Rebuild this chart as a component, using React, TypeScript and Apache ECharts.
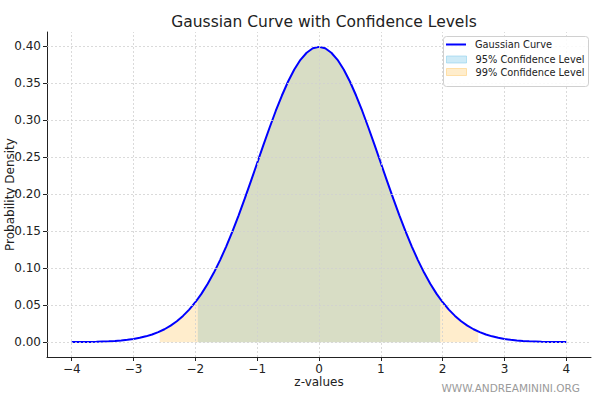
import React, { useEffect, useRef } from "react";
import * as echarts from "echarts";

const zValues = [
  -4.0, -3.9, -3.8, -3.7, -3.6, -3.5, -3.4, -3.3, -3.2, -3.1,
  -3.0, -2.9, -2.8, -2.7, -2.6, -2.5, -2.4, -2.3, -2.2, -2.1,
  -2.0, -1.9, -1.8, -1.7, -1.6, -1.5, -1.4, -1.3, -1.2, -1.1,
  -1.0, -0.9, -0.8, -0.7, -0.6, -0.5, -0.4, -0.3, -0.2, -0.1,
  0.0, 0.1, 0.2, 0.3, 0.4, 0.5, 0.6, 0.7, 0.8, 0.9,
  1.0, 1.1, 1.2, 1.3, 1.4, 1.5, 1.6, 1.7, 1.8, 1.9,
  2.0, 2.1, 2.2, 2.3, 2.4, 2.5, 2.6, 2.7, 2.8, 2.9,
  3.0, 3.1, 3.2, 3.3, 3.4, 3.5, 3.6, 3.7, 3.8, 3.9, 4.0,
];

const density = [
  0.0001, 0.0002, 0.0003, 0.0004, 0.0006, 0.0009, 0.0012, 0.0017, 0.0024, 0.0033,
  0.0044, 0.006, 0.0079, 0.0104, 0.0136, 0.0175, 0.0224, 0.0283, 0.0355, 0.044,
  0.054, 0.0656, 0.079, 0.094, 0.1109, 0.1295, 0.1497, 0.1714, 0.1942, 0.2179,
  0.242, 0.2661, 0.2897, 0.3123, 0.3332, 0.3521, 0.3683, 0.3814, 0.391, 0.397,
  0.3989, 0.397, 0.391, 0.3814, 0.3683, 0.3521, 0.3332, 0.3123, 0.2897, 0.2661,
  0.242, 0.2179, 0.1942, 0.1714, 0.1497, 0.1295, 0.1109, 0.094, 0.079, 0.0656,
  0.054, 0.044, 0.0355, 0.0283, 0.0224, 0.0175, 0.0136, 0.0104, 0.0079, 0.006,
  0.0044, 0.0033, 0.0024, 0.0017, 0.0012, 0.0009, 0.0006, 0.0004, 0.0003, 0.0002, 0.0001,
];

// confidence bounds and curve heights at those bounds
const ci95 = [-1.96, 1.96];
const ci95Edge = 0.0584;
const ci99 = [-2.576, 2.576];
const ci99Edge = 0.0145;

const xTicks = [-4, -3, -2, -1, 0, 1, 2, 3, 4];
const yTicks = [0, 0.05, 0.1, 0.15, 0.2, 0.25, 0.3, 0.35, 0.4];

const FONT = "DejaVu Sans";

function band(lo: number, hi: number, edge: number) {
  const pts: number[][] = [[lo, edge]];
  zValues.forEach((z, i) => {
    if (z > lo && z < hi) pts.push([z, density[i]]);
  });
  pts.push([hi, edge]);
  return pts;
}

export default function App() {
  const ref = useRef<HTMLDivElement>(null);
  useEffect(() => {
    if (!ref.current) return;
    const chart = echarts.init(ref.current, null, { renderer: "svg" });
    const curve = zValues.map((z, i) => [z, density[i]]);
    const gridLine = { color: "#d0d0d0", type: [2, 2], width: 0.8 };
    const legendText = { fontFamily: FONT, fontSize: 9.8, color: "#222", padding: [0, 0, 0, 4] };
    chart.setOption({
      animation: false,
      backgroundColor: "#ffffff",
      textStyle: { fontFamily: FONT },
      title: {
        text: "Gaussian Curve with Confidence Levels",
        left: 319,
        textAlign: "center",
        top: 9,
        textStyle: { fontFamily: FONT, fontSize: 15.5, fontWeight: "normal", color: "#222" },
      },
      grid: { left: 47, right: 9, top: 32, bottom: 39, containLabel: false, outerBoundsMode: "none" },
      legend: [
        {
          left: 446,
          top: 39.5,
          orient: "vertical",
          padding: 0,
          itemWidth: 20,
          itemHeight: 2,
          icon: "rect",
          textStyle: legendText,
          z: 8,
          data: [{ name: "Gaussian Curve", itemStyle: { color: "#0000ff", borderWidth: 0 } }],
        },
        {
          left: 446,
          top: 54.5,
          orient: "vertical",
          padding: 0,
          itemGap: 2.5,
          itemWidth: 20,
          itemHeight: 7,
          icon: "rect",
          textStyle: legendText,
          z: 8,
          data: [
            {
              name: "95% Confidence Level",
              itemStyle: { color: "rgba(135,206,235,0.4)", borderColor: "rgba(135,206,235,0.55)", borderWidth: 1, borderType: "solid" },
            },
            {
              name: "99% Confidence Level",
              itemStyle: { color: "rgba(255,165,0,0.2)", borderColor: "rgba(255,165,0,0.28)", borderWidth: 1, borderType: "solid" },
            },
          ],
        },
      ],
      xAxis: {
        type: "value",
        min: -4.4,
        max: 4.4,
        name: "z-values",
        nameLocation: "middle",
        nameGap: 19,
        nameMoveOverlap: false,
        nameTextStyle: { fontFamily: FONT, fontSize: 12, color: "#222" },
        axisLine: { onZero: false, lineStyle: { color: "#222", width: 1 } },
        axisTick: { show: true, customValues: xTicks, length: 4, lineStyle: { color: "#222" } },
        axisLabel: {
          customValues: xTicks,
          fontFamily: FONT,
          fontSize: 12,
          color: "#222",
          margin: 6,
          formatter: (v: number) => String(v).replace("-", "\u2212"),
        },
        splitLine: { show: false },
      },
      yAxis: {
        type: "value",
        min: -0.02,
        max: 0.419,
        name: "Probability Density",
        nameLocation: "middle",
        nameGap: 31,
        nameMoveOverlap: false,
        nameRotate: 90,
        nameTextStyle: { fontFamily: FONT, fontSize: 12, color: "#222" },
        axisLine: { show: true, onZero: false, lineStyle: { color: "#222", width: 1 } },
        axisTick: { show: true, customValues: yTicks, length: 4, lineStyle: { color: "#222" } },
        axisLabel: {
          customValues: yTicks,
          fontFamily: FONT,
          fontSize: 12,
          color: "#222",
          margin: 6,
          formatter: (v: number) => v.toFixed(2),
        },
        splitLine: { show: false },
      },
      graphic: [
        {
          type: "rect",
          left: 443,
          top: 36,
          z: 6,
          shape: { width: 145, height: 50, r: 3 },
          style: { fill: "rgba(255,255,255,0.85)", stroke: "#d0d0d0", lineWidth: 1 },
        },
        {
          type: "text",
          right: 20,
          bottom: 3,
          style: {
            text: "WWW.ANDREAMININI.ORG",
            fontFamily: FONT,
            fontSize: 10.5,
            fill: "#9a9a9a",
          },
        },
      ],
      series: [
        {
          name: "grid",
          type: "line",
          data: [],
          z: 1,
          silent: true,
          markLine: {
            silent: true,
            symbol: "none",
            label: { show: false },
            lineStyle: gridLine,
            data: [
              ...xTicks.map((v) => ({ xAxis: v })),
              ...yTicks.map((v) => ({ yAxis: v })),
            ],
          },
        },
        {
          name: "95% Confidence Level",
          type: "line",
          data: band(ci95[0], ci95[1], ci95Edge),
          showSymbol: false,
          symbol: "none",
          z: 2,
          lineStyle: { width: 0 },
          itemStyle: { color: "rgba(135,206,235,0.4)" },
          areaStyle: { color: "#87ceeb", opacity: 0.4, origin: "auto" },
        },
        {
          name: "99% Confidence Level",
          type: "line",
          data: band(ci99[0], ci99[1], ci99Edge),
          showSymbol: false,
          symbol: "none",
          z: 3,
          lineStyle: { width: 0 },
          itemStyle: { color: "rgba(255,165,0,0.2)" },
          areaStyle: { color: "#ffa500", opacity: 0.2, origin: "auto" },
        },
        {
          name: "Gaussian Curve",
          type: "line",
          data: curve,
          showSymbol: false,
          symbol: "none",
          z: 4,
          lineStyle: { color: "#0000ff", width: 2, type: "solid" },
          itemStyle: { color: "#0000ff" },
        },
      ],
    });
    return () => chart.dispose();
  }, []);
  return <div ref={ref} style={{ width: 600, height: 396, position: "absolute", left: 0, top: 0 }} />;
}
